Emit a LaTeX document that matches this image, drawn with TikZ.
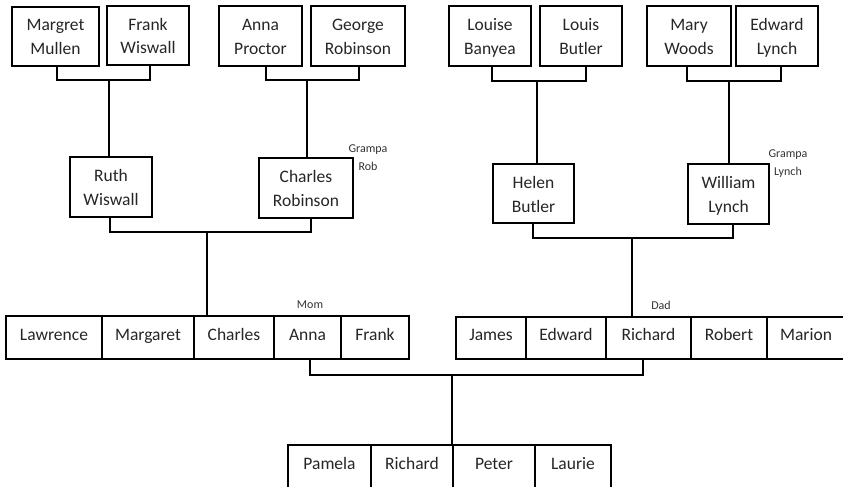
\documentclass[tikz,border=0pt]{standalone}
\usepackage{fontspec}
\setmainfont{Carlito}
\newcommand\hstr{\rule[-3pt]{0pt}{19pt}}
\newcommand\twol[2]{#1\hstr\\#2\hstr}
\tikzset{
  person/.style={draw, line width=1.4pt, align=center, inner sep=0pt,
    font=\fontsize{17.5}{24}\selectfont, text=black!85},
  sib/.style={person, minimum height=43pt, text height=11pt, text depth=6pt},
  link/.style={line width=2.2pt},
  note/.style={font=\fontsize{12}{18}\selectfont, text=black!80, align=center},
}
\begin{document}
\begin{tikzpicture}[x=1pt,y=-1pt]
\clip (0,0) rectangle (843,487);
\fill[white] (0,0) rectangle (843,487);
% grandparents
\node[person, minimum width=87pt, minimum height=59pt] (MM) at (55.5,36.5) {\twol{Margret}{Mullen}};
\node[person, minimum width=82pt, minimum height=59pt] (FW) at (148,35.5) {\twol{Frank}{Wiswall}};
\node[person, minimum width=83pt, minimum height=60pt] (AP) at (260.5,36) {\twol{Anna}{Proctor}};
\node[person, minimum width=94pt, minimum height=60pt] (GR) at (358,36) {\twol{George}{Robinson}};
\node[person, minimum width=82pt, minimum height=60pt] (LB) at (490,36) {\twol{Louise}{Banyea}};
\node[person, minimum width=82pt, minimum height=60pt] (LU) at (581,36) {\twol{Louis}{Butler}};
\node[person, minimum width=84pt, minimum height=60pt] (MW) at (689,36) {\twol{Mary}{Woods}};
\node[person, minimum width=82pt, minimum height=60pt] (EL) at (777,36) {\twol{Edward}{Lynch}};
% parents
\node[person, minimum width=82pt, minimum height=60pt] (RW) at (111,187) {\twol{Ruth}{Wiswall}};
\node[person, minimum width=94pt, minimum height=60pt] (CR) at (306,188) {\twol{Charles}{Robinson}};
\node[person, minimum width=81pt, minimum height=59pt] (HB) at (533.5,193.5) {\twol{Helen}{Butler}};
\node[person, minimum width=81pt, minimum height=60pt] (WL) at (728.5,194) {\twol{William}{Lynch}};
% mom's siblings
\node[sib, minimum width=96pt] (s1) at (54,337.5) {Lawrence};
\node[sib, minimum width=92pt] (s2) at (148,337.5) {Margaret};
\node[sib, minimum width=80pt] (s3) at (234,337.5) {Charles};
\node[sib, minimum width=67pt] (s4) at (307.5,337.5) {Anna};
\node[sib, minimum width=68pt] (s5) at (375,337.5) {Frank};
% dad's siblings
\node[sib, minimum width=70pt, minimum height=42pt] (d1) at (491,338) {James};
\node[sib, minimum width=80pt, minimum height=42pt] (d2) at (566,338) {Edward};
\node[sib, minimum width=85pt, minimum height=42pt] (d3) at (648.5,338) {Richard};
\node[sib, minimum width=76pt, minimum height=42pt] (d4) at (729,338) {Robert};
\node[sib, minimum width=78pt, minimum height=42pt] (d5) at (806,338) {Marion};
% children
\node[sib, minimum width=83pt] (c1) at (329.5,466.5) {Pamela};
\node[sib, minimum width=82pt] (c2) at (412,466.5) {Richard};
\node[sib, minimum width=82pt] (c3) at (494,466.5) {Peter};
\node[sib, minimum width=76pt] (c4) at (573,466.5) {Laurie};
% notes
\node[note] (n1) at (368,158) {Grampa\\Rob};
\node[note] (n2) at (788,164) {Grampa\\Lynch};
\node[note] (n3) at (310,305) {Mom};
\node[note] (n4) at (661,305) {Dad};
% couple bars (grandparents)
\draw[link] ([xshift=1.5pt]MM.south) -- ([xshift=1.5pt]MM.south |- 0,80) -- ([xshift=2pt]FW.south |- 0,80) -- ([xshift=2pt]FW.south);
\draw[link] ([xshift=5.5pt]AP.south) -- ([xshift=5.5pt]AP.south |- 0,80) -- ([xshift=1pt]GR.south |- 0,80) -- ([xshift=1pt]GR.south);
\draw[link] ([xshift=2pt]LB.south) -- ([xshift=2pt]LB.south |- 0,81) -- ([xshift=5pt]LU.south |- 0,81) -- ([xshift=5pt]LU.south);
\draw[link] ([xshift=-2pt]MW.south) -- ([xshift=-2pt]MW.south |- 0,81) -- ([xshift=4pt]EL.south |- 0,81) -- ([xshift=4pt]EL.south);
% grandparents to parents
\draw[link] ([xshift=-2pt]RW.north) -- ([xshift=-2pt]RW.north |- 0,80);
\draw[link] ([xshift=1pt]CR.north) -- ([xshift=1pt]CR.north |- 0,80);
\draw[link] ([xshift=3.5pt]HB.north) -- ([xshift=3.5pt]HB.north |- 0,81);
\draw[link] ([xshift=0.5pt]WL.north) -- ([xshift=0.5pt]WL.north |- 0,81);
% parents bars
\coordinate (j1) at (207,232);
\coordinate (j2) at (632,238);
\draw[link] ([xshift=-1pt]RW.south) -- ([xshift=-1pt]RW.south |- j1) -- ([xshift=5pt]CR.south |- j1) -- ([xshift=5pt]CR.south);
\draw[link] (j1) -- (j1 |- s3.north);
\draw[link] ([xshift=-0.5pt]HB.south) -- ([xshift=-0.5pt]HB.south |- j2) -- ([xshift=4.5pt]WL.south |- j2) -- ([xshift=4.5pt]WL.south);
\draw[link] (j2) -- (j2 |- d3.north);
% mom & dad to children
\coordinate (j3) at (452,375);
\draw[link] ([xshift=2.5pt]s4.south) -- ([xshift=2.5pt]s4.south |- j3) -- ([xshift=-5.5pt]d3.south |- j3) -- ([xshift=-5.5pt]d3.south);
\draw[link] (j3) -- (j3 |- c3.north);
\end{tikzpicture}
\end{document}
